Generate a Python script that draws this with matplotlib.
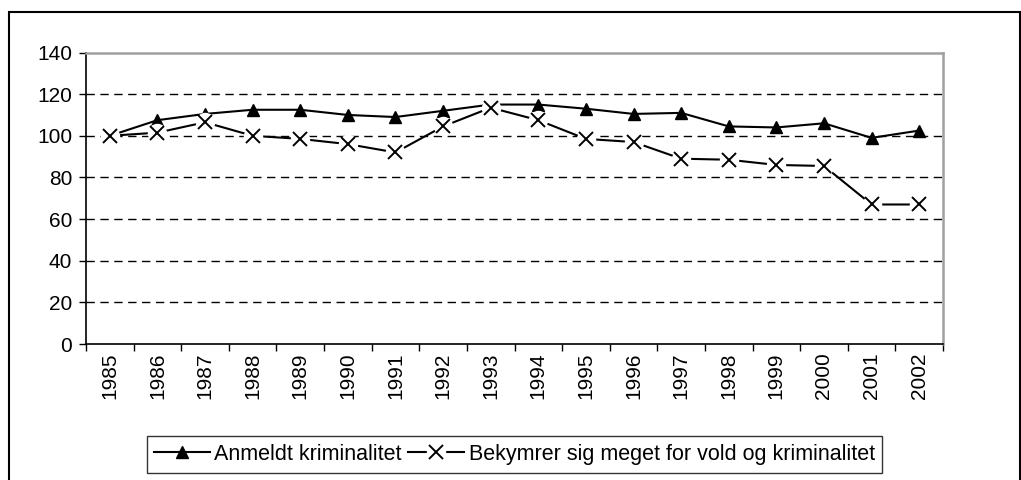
import matplotlib
matplotlib.use("Agg")
import matplotlib.pyplot as plt
from matplotlib.lines import Line2D
from matplotlib.patches import Rectangle
from matplotlib.legend_handler import HandlerTuple

plt.rcParams['font.family'] = ['Liberation Sans', 'DejaVu Sans']

years = ['1985', '1986', '1987', '1988', '1989', '1990', '1991', '1992', '1993',
         '1994', '1995', '1996', '1997', '1998', '1999', '2000', '2001', '2002']
anmeldt = [100, 107.5, 110.5, 112.5, 112.5, 110, 109, 112, 115,
           115, 113, 110.5, 111, 104.5, 104, 106, 99, 102.5]
bekymrer = [100, 101.5, 106.5, 100, 98.5, 96, 92, 104.5, 113.5,
            107.5, 98.5, 97, 89, 88.5, 86, 85.5, 67, 67]
name_a = 'Anmeldt kriminalitet'
name_b = 'Bekymrer sig meget for vold og kriminalitet'
yticks = [0, 20, 40, 60, 80, 100, 120, 140]

W, H = 1021, 480
fig = plt.figure(figsize=(W / 100, H / 100), dpi=100)
ax = fig.add_axes([86 / W, 1 - 344 / H, (943 - 86) / W, (344 - 52.5) / H])

x = list(range(len(years)))
ax.plot(x, anmeldt, color='black', lw=1.5, marker='^', ms=9,
        mfc='black', mec='black', zorder=3, clip_on=False)
ax.plot(x, bekymrer, color='black', lw=1.5, zorder=4, clip_on=False)
ax.plot(x, bekymrer, ls='none', marker='o', ms=14, mfc='white', mec='none',
        zorder=5, clip_on=False)
ax.plot(x, bekymrer, ls='none', marker='x', ms=10, mew=1.4, color='black',
        zorder=6, clip_on=False)

ax.set_xlim(-0.5, len(years) - 0.5)
ax.set_ylim(0, 140)
ax.set_yticks(yticks)
ax.set_yticklabels([str(v) for v in yticks], fontsize=15)
ax.set_xticks([i - 0.5 for i in range(len(years) + 1)])
ax.set_xticklabels([])
ax.set_xticks(x, minor=True)
ax.set_xticklabels(years, minor=True, rotation=90, fontsize=15)
ax.tick_params(axis='x', which='major', direction='out', length=5, width=1)
ax.tick_params(axis='x', which='minor', length=0, pad=6)
ax.tick_params(axis='y', direction='out', length=5, width=1, pad=5)

for v in yticks[1:-1]:
    ax.axhline(v, color='black', lw=1, ls=(0, (6, 4)), zorder=1)

for s in ['top', 'right']:
    ax.spines[s].set_color('#a0a0a0')
    ax.spines[s].set_linewidth(1.8)
for s in ['left', 'bottom']:
    ax.spines[s].set_color('black')
    ax.spines[s].set_linewidth(1.2)

h_a = Line2D([], [], color='black', lw=1.5, marker='^', ms=9, mfc='black')
h_b1 = Line2D([], [], color='black', lw=1.5)
h_b2 = Line2D([], [], ls='none', marker='o', ms=14, mfc='white', mec='none')
h_b3 = Line2D([], [], ls='none', marker='x', ms=10, mew=1.4, color='black')
leg = fig.legend([h_a, (h_b1, h_b2, h_b3)], [name_a, name_b],
                 handler_map={tuple: HandlerTuple(ndivide=1, pad=0)},
                 loc='center', bbox_to_anchor=(514.5 / W, 1 - 454.5 / H),
                 ncol=2, fontsize=15.5, frameon=True, fancybox=False,
                 edgecolor='black', handlelength=2.6, handletextpad=0.2,
                 columnspacing=0.3, borderpad=0.35, borderaxespad=0)
leg.get_frame().set_linewidth(1.0)

fig.add_artist(Rectangle((9 / W, -0.1), (1019.5 - 9) / W, 1 - 12 / H + 0.1,
                         transform=fig.transFigure, fill=False,
                         edgecolor='black', lw=1.5))

fig.savefig('out.png', dpi=100)
